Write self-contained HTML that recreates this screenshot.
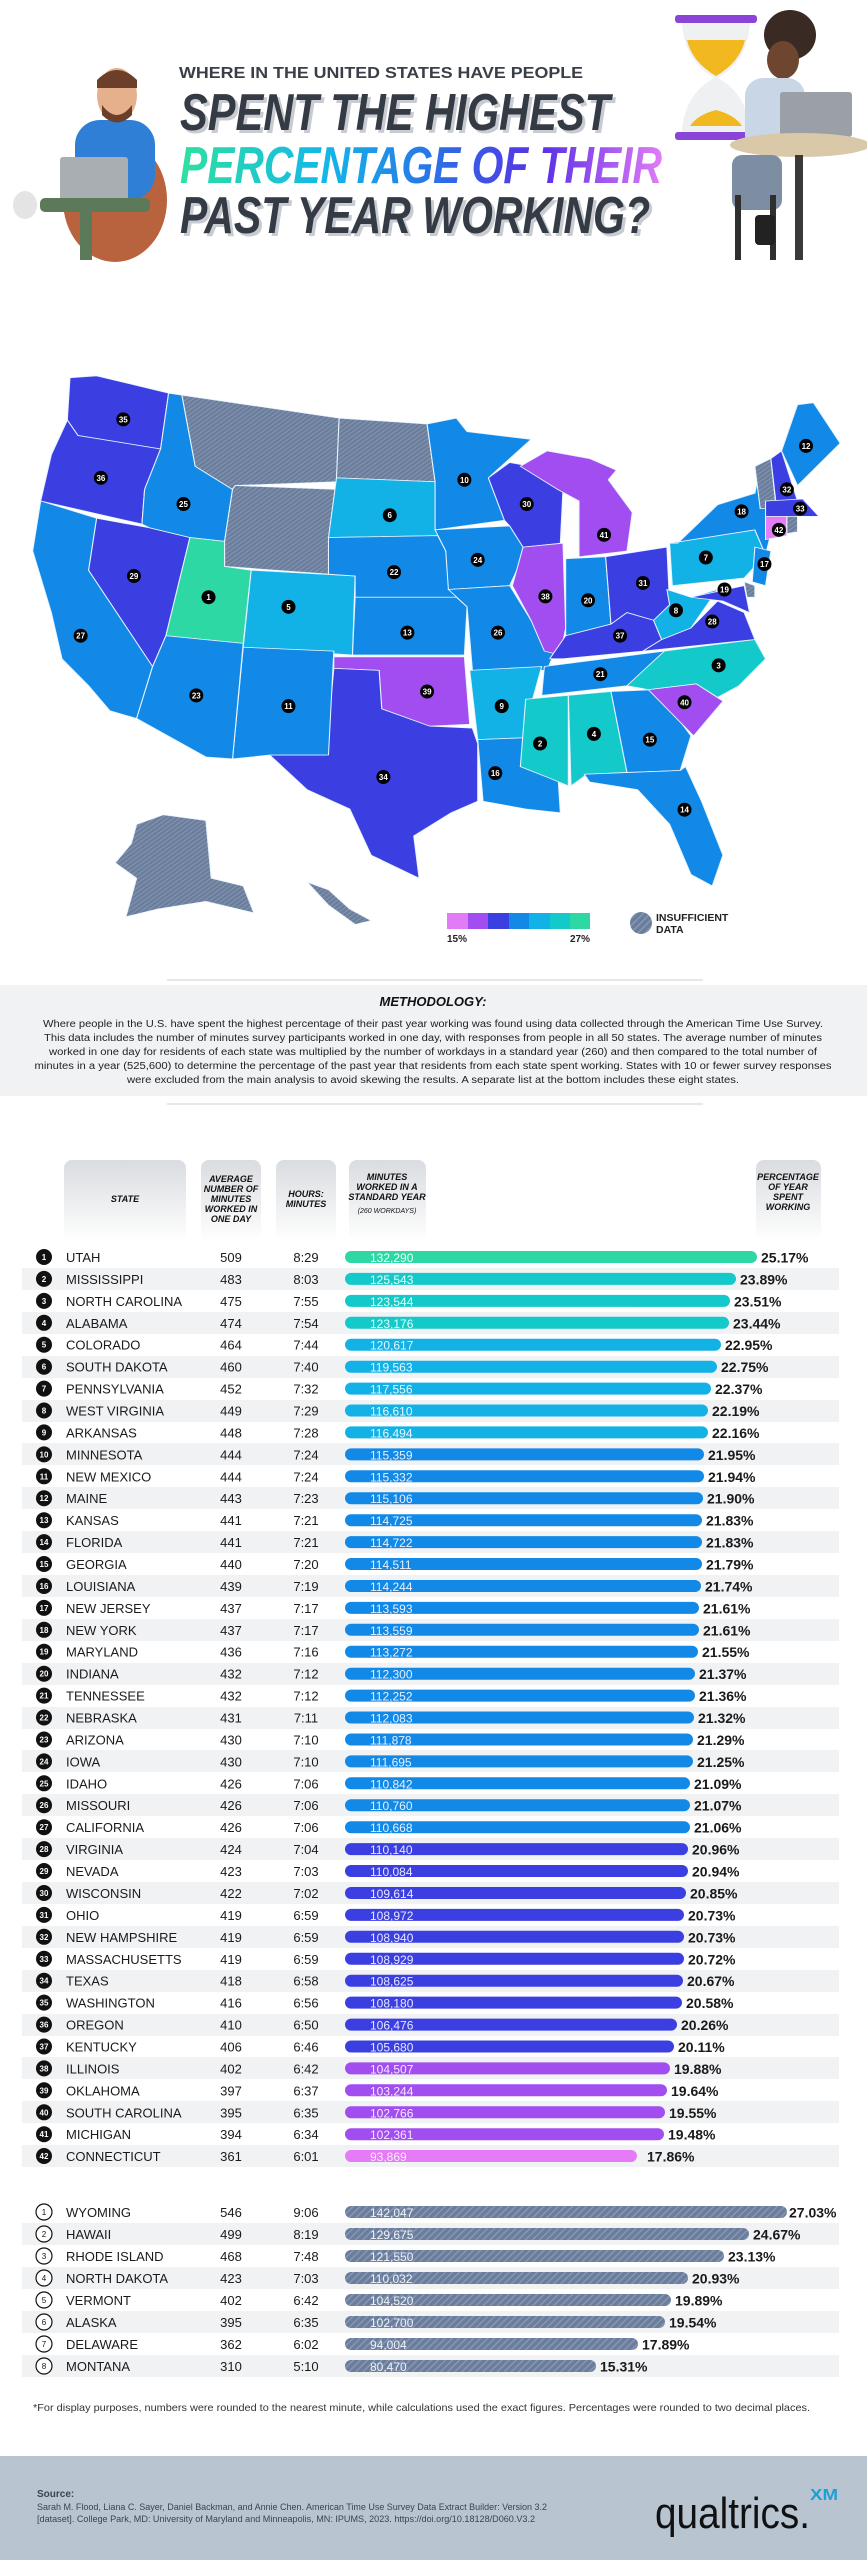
<!DOCTYPE html>
<html><head><meta charset="utf-8"><style>
html,body{margin:0;padding:0;background:#fff;}
body{width:867px;height:2560px;overflow:hidden;position:relative;font-family:"Liberation Sans",sans-serif;}
svg{position:absolute;left:0;top:0;}
</style></head><body>
<svg width="867" height="2560" viewBox="0 0 867 2560" xmlns="http://www.w3.org/2000/svg" font-family="Liberation Sans, sans-serif">
<defs>
<pattern id="h" width="5" height="5" patternUnits="userSpaceOnUse" patternTransform="rotate(45)"><rect width="5" height="5" fill="#6a7d9c"/><rect width="1.5" height="5" fill="#8797b2"/></pattern>
<pattern id="hm" width="8" height="8" patternUnits="userSpaceOnUse" patternTransform="rotate(45)"><rect width="8" height="8" fill="#6a7d9c"/><rect width="2.5" height="8" fill="#8394ad"/></pattern>
<linearGradient id="tg" x1="0" x2="1"><stop offset="0" stop-color="#2fe0a0"/><stop offset="0.3" stop-color="#12b8e8"/><stop offset="0.55" stop-color="#2d6be6"/><stop offset="0.75" stop-color="#5a2fe6"/><stop offset="1" stop-color="#e27cf6"/></linearGradient>
<linearGradient id="hg" x1="0" y1="0" x2="0" y2="1"><stop offset="0" stop-color="#d9dce0"/><stop offset="1" stop-color="#ffffff"/></linearGradient>
</defs>

<!-- Header illustrations -->
<ellipse cx="115" cy="200" rx="52" ry="62" fill="#b8623e"/>
<rect x="75" y="120" width="80" height="80" rx="25" fill="#2f7fd6"/>
<ellipse cx="117" cy="95" rx="20" ry="27" fill="#e6b08c"/>
<path d="M97 80 Q117 60 137 80 L137 88 L97 88Z" fill="#6b3f2a"/>
<path d="M102 105 Q117 125 132 105 L132 115 Q117 130 102 115Z" fill="#6b3f2a"/>
<rect x="60" y="157" width="68" height="43" rx="3" fill="#a9aeb3"/>
<rect x="40" y="198" width="110" height="14" rx="5" fill="#5c7a5a"/>
<rect x="80" y="210" width="12" height="50" fill="#5c7a5a"/>
<ellipse cx="25" cy="205" rx="12" ry="14" fill="#e4e4e4"/>
<rect x="675" y="15" width="82" height="8" rx="3" fill="#8a45d8"/>
<rect x="675" y="132" width="82" height="8" rx="3" fill="#8a45d8"/>
<path d="M682 23 L750 23 Q748 60 718 78 Q748 95 750 132 L682 132 Q684 95 714 78 Q684 60 682 23Z" fill="#eef0f2"/>
<path d="M687 40 L745 40 Q740 62 716 76 Q692 62 687 40Z" fill="#f2b81f"/>
<path d="M690 126 L742 126 Q735 115 716 110 Q697 115 690 126Z" fill="#f2b81f"/>
<ellipse cx="790" cy="35" rx="26" ry="25" fill="#3a2a24"/>
<ellipse cx="783" cy="60" rx="16" ry="19" fill="#6e4630"/>
<rect x="745" y="78" width="60" height="75" rx="18" fill="#c9d6e6"/>
<rect x="780" y="92" width="72" height="45" rx="3" fill="#9aa0a6"/>
<ellipse cx="800" cy="145" rx="70" ry="12" fill="#d9c9a8"/>
<rect x="732" y="155" width="50" height="55" rx="10" fill="#7d8ea3"/>
<rect x="795" y="155" width="8" height="105" fill="#3a3a3a"/>
<rect x="735" y="195" width="6" height="65" fill="#2f2f2f"/>
<rect x="770" y="195" width="6" height="65" fill="#2f2f2f"/>
<rect x="755" y="215" width="20" height="30" rx="4" fill="#222"/>

<!-- Title -->
<text x="179" y="78" font-size="16" font-weight="bold" fill="#3a3f47" textLength="404" lengthAdjust="spacingAndGlyphs">WHERE IN THE UNITED STATES HAVE PEOPLE</text>
<text x="183" y="133" font-size="52" font-weight="bold" font-style="italic" fill="#c8ccd2" textLength="430" lengthAdjust="spacingAndGlyphs">SPENT THE HIGHEST</text>
<text x="180" y="130" font-size="52" font-weight="bold" font-style="italic" fill="#353b44" textLength="430" lengthAdjust="spacingAndGlyphs">SPENT THE HIGHEST</text>
<text x="180" y="183" font-size="52" font-weight="bold" font-style="italic" fill="url(#tg)" textLength="482" lengthAdjust="spacingAndGlyphs">PERCENTAGE OF THEIR</text>
<text x="183" y="236" font-size="52" font-weight="bold" font-style="italic" fill="#c8ccd2" textLength="470" lengthAdjust="spacingAndGlyphs">PAST YEAR WORKING?</text>
<text x="180" y="233" font-size="52" font-weight="bold" font-style="italic" fill="#353b44" textLength="470" lengthAdjust="spacingAndGlyphs">PAST YEAR WORKING?</text>

<!-- Map -->
<g transform="translate(30,320) scale(0.533,0.385)" stroke="#e8f4ff" stroke-width="1" vector-effect="non-scaling-stroke">
<g stroke="#e8f4ff" stroke-width="2">
<polygon fill="#3b3fe2" points="75,150 125,145 260,190 245,335 90,300 70,260"/>
<polygon fill="#3b3fe2" points="70,260 90,300 245,335 215,440 210,530 20,470 40,350"/>
<polygon fill="#1289e6" points="20,470 125,515 110,650 230,900 200,1035 150,1015 110,950 60,880 40,760 5,600"/>
<polygon fill="#3b3fe2" points="125,515 225,540 300,565 255,820 230,900 110,650"/>
<polygon fill="#1289e6" points="260,190 285,195 310,380 380,440 365,575 300,565 225,540 210,530 215,440 245,335"/>
<polygon fill="url(#hm)" points="285,195 580,255 575,420 385,430 380,440 310,380"/>
<polygon fill="url(#hm)" points="385,430 575,440 560,660 365,640 365,575 380,440"/>
<polygon fill="url(#hm)" points="580,255 745,270 760,420 575,410"/>
<polygon fill="#12b2e6" points="575,410 760,420 765,560 560,565"/>
<polygon fill="#2ed8a4" points="300,565 365,575 365,640 415,650 400,840 255,820"/>
<polygon fill="#12b2e6" points="415,650 610,665 605,870 400,850"/>
<polygon fill="#1289e6" points="560,565 765,560 780,600 800,720 610,720 610,665 560,660"/>
<polygon fill="#1289e6" points="610,720 800,720 820,745 815,870 605,870"/>
<polygon fill="#a14df0" points="570,875 815,875 825,1050 750,1055 660,1010 655,910 570,905"/>
<polygon fill="#3b3fe2" points="450,1130 555,1130 570,905 655,910 660,1010 750,1055 830,1060 840,1100 840,1250 790,1280 720,1340 730,1450 640,1390 600,1270 520,1220"/>
<polygon fill="#1289e6" points="400,850 570,860 560,1130 450,1130 380,1140"/>
<polygon fill="#1289e6" points="255,820 400,840 380,1140 330,1135 200,1035 230,900"/>
<polygon fill="#1289e6" points="745,270 800,255 820,290 940,310 860,410 890,520 760,545 760,420"/>
<polygon fill="#1289e6" points="760,545 900,535 930,600 900,690 785,700 780,600"/>
<polygon fill="#1289e6" points="785,700 900,690 940,780 985,860 970,910 830,910 820,745"/>
<polygon fill="#12b2e6" points="825,910 960,900 940,1000 930,1085 840,1090"/>
<polygon fill="#1289e6" points="840,1090 930,1085 920,1160 990,1170 995,1280 930,1270 850,1250"/>
<polygon fill="#3b3fe2" points="860,410 900,370 960,385 1000,440 995,580 925,590 900,535 890,520"/>
<polygon fill="#a14df0" points="925,590 1000,580 1005,800 995,870 965,860 940,780 905,690"/>
<polygon fill="#a14df0" points="920,380 970,340 1050,360 1100,390 1085,415 1130,500 1120,600 1030,615 1030,470 990,440"/>
<polygon fill="#1289e6" points="1005,620 1080,615 1090,790 1005,820"/>
<polygon fill="#3b3fe2" points="1080,615 1195,590 1200,740 1170,780 1120,760 1090,790"/>
<polygon fill="#3b3fe2" points="975,880 1005,820 1090,790 1120,760 1170,780 1185,830 1150,860 1000,880"/>
<polygon fill="#1289e6" points="965,900 1190,860 1175,900 1120,950 960,975"/>
<polygon fill="#14c9c9" points="930,985 1010,975 1010,1210 975,1190 920,1160"/>
<polygon fill="#14c9c9" points="1010,975 1090,965 1120,1175 1045,1180 1015,1210"/>
<polygon fill="#1289e6" points="1090,965 1175,960 1240,1080 1220,1170 1120,1175"/>
<polygon fill="#1289e6" points="1040,1180 1220,1170 1230,1160 1260,1250 1300,1390 1280,1470 1240,1440 1200,1310 1140,1220 1050,1200"/>
<polygon fill="#a14df0" points="1160,960 1250,945 1300,990 1245,1080"/>
<polygon fill="#14c9c9" points="1120,950 1190,860 1360,830 1380,880 1330,950 1290,980 1250,945 1160,960"/>
<polygon fill="#3b3fe2" points="1150,860 1185,830 1240,800 1290,730 1340,760 1360,830"/>
<polygon fill="#12b2e6" points="1170,780 1200,740 1195,700 1240,720 1290,700 1240,800 1185,830"/>
<polygon fill="#12b2e6" points="1200,580 1360,545 1380,610 1340,670 1205,690"/>
<polygon fill="#1289e6" points="1215,580 1290,480 1360,450 1370,380 1400,500 1380,610 1360,545 1200,580"/>
<polygon fill="url(#hm)" points="1360,380 1390,360 1400,490 1370,490"/>
<polygon fill="#3b3fe2" points="1390,360 1410,340 1440,470 1400,480"/>
<polygon fill="#1289e6" points="1410,340 1440,220 1470,215 1520,320 1440,430"/>
<polygon fill="#3b3fe2" points="1380,470 1450,465 1480,510 1380,510"/>
<polygon fill="#e57bf7" points="1380,510 1420,510 1420,560 1380,570"/>
<polygon fill="url(#hm)" points="1420,510 1440,510 1440,550 1420,555"/>
<polygon fill="#1289e6" points="1360,590 1390,600 1380,690 1355,680"/>
<polygon fill="#3b3fe2" points="1240,720 1340,690 1350,760 1300,730"/>
<polygon fill="url(#hm)" points="1340,680 1360,690 1360,720 1345,720"/>
<polygon fill="url(#hm)" points="200,1310 250,1285 330,1300 340,1450 400,1470 420,1540 330,1510 240,1530 180,1550 200,1450 160,1410 190,1360"/>
<polygon fill="url(#hm)" points="520,1460 560,1480 600,1530 640,1560 610,1570 560,1520"/>
</g>
<g fill="#000" stroke="none" font-size="9" font-weight="bold" text-anchor="middle">
<g transform="translate(175,258) scale(1.876,2.6)"><circle r="7" fill="#000"/><text y="3" fill="#fff" font-size="8">35</text></g>
<g transform="translate(133,410) scale(1.876,2.6)"><circle r="7"/><text y="3" fill="#fff" font-size="8">36</text></g>
<g transform="translate(288,478) scale(1.876,2.6)"><circle r="7"/><text y="3" fill="#fff" font-size="8">25</text></g>
<g transform="translate(195,665) scale(1.876,2.6)"><circle r="7"/><text y="3" fill="#fff" font-size="8">29</text></g>
<g transform="translate(95,820) scale(1.876,2.6)"><circle r="7"/><text y="3" fill="#fff" font-size="8">27</text></g>
<g transform="translate(335,720) scale(1.876,2.6)"><circle r="7"/><text y="3" fill="#fff" font-size="8">1</text></g>
<g transform="translate(485,745) scale(1.876,2.6)"><circle r="7"/><text y="3" fill="#fff" font-size="8">5</text></g>
<g transform="translate(312,975) scale(1.876,2.6)"><circle r="7"/><text y="3" fill="#fff" font-size="8">23</text></g>
<g transform="translate(485,1003) scale(1.876,2.6)"><circle r="7"/><text y="3" fill="#fff" font-size="8">11</text></g>
<g transform="translate(675,507) scale(1.876,2.6)"><circle r="7"/><text y="3" fill="#fff" font-size="8">6</text></g>
<g transform="translate(683,655) scale(1.876,2.6)"><circle r="7"/><text y="3" fill="#fff" font-size="8">22</text></g>
<g transform="translate(708,812) scale(1.876,2.6)"><circle r="7"/><text y="3" fill="#fff" font-size="8">13</text></g>
<g transform="translate(745,965) scale(1.876,2.6)"><circle r="7"/><text y="3" fill="#fff" font-size="8">39</text></g>
<g transform="translate(663,1187) scale(1.876,2.6)"><circle r="7"/><text y="3" fill="#fff" font-size="8">34</text></g>
<g transform="translate(815,415) scale(1.876,2.6)"><circle r="7"/><text y="3" fill="#fff" font-size="8">10</text></g>
<g transform="translate(840,623) scale(1.876,2.6)"><circle r="7"/><text y="3" fill="#fff" font-size="8">24</text></g>
<g transform="translate(878,812) scale(1.876,2.6)"><circle r="7"/><text y="3" fill="#fff" font-size="8">26</text></g>
<g transform="translate(885,1003) scale(1.876,2.6)"><circle r="7"/><text y="3" fill="#fff" font-size="8">9</text></g>
<g transform="translate(873,1177) scale(1.876,2.6)"><circle r="7"/><text y="3" fill="#fff" font-size="8">16</text></g>
<g transform="translate(932,478) scale(1.876,2.6)"><circle r="7"/><text y="3" fill="#fff" font-size="8">30</text></g>
<g transform="translate(967,718) scale(1.876,2.6)"><circle r="7"/><text y="3" fill="#fff" font-size="8">38</text></g>
<g transform="translate(1077,558) scale(1.876,2.6)"><circle r="7"/><text y="3" fill="#fff" font-size="8">41</text></g>
<g transform="translate(1047,728) scale(1.876,2.6)"><circle r="7"/><text y="3" fill="#fff" font-size="8">20</text></g>
<g transform="translate(1150,683) scale(1.876,2.6)"><circle r="7"/><text y="3" fill="#fff" font-size="8">31</text></g>
<g transform="translate(1107,820) scale(1.876,2.6)"><circle r="7"/><text y="3" fill="#fff" font-size="8">37</text></g>
<g transform="translate(1070,920) scale(1.876,2.6)"><circle r="7"/><text y="3" fill="#fff" font-size="8">21</text></g>
<g transform="translate(957,1100) scale(1.876,2.6)"><circle r="7"/><text y="3" fill="#fff" font-size="8">2</text></g>
<g transform="translate(1058,1075) scale(1.876,2.6)"><circle r="7"/><text y="3" fill="#fff" font-size="8">4</text></g>
<g transform="translate(1163,1090) scale(1.876,2.6)"><circle r="7"/><text y="3" fill="#fff" font-size="8">15</text></g>
<g transform="translate(1228,1272) scale(1.876,2.6)"><circle r="7"/><text y="3" fill="#fff" font-size="8">14</text></g>
<g transform="translate(1228,993) scale(1.876,2.6)"><circle r="7"/><text y="3" fill="#fff" font-size="8">40</text></g>
<g transform="translate(1292,897) scale(1.876,2.6)"><circle r="7"/><text y="3" fill="#fff" font-size="8">3</text></g>
<g transform="translate(1212,754) scale(1.876,2.6)"><circle r="7"/><text y="3" fill="#fff" font-size="8">8</text></g>
<g transform="translate(1280,783) scale(1.876,2.6)"><circle r="7"/><text y="3" fill="#fff" font-size="8">28</text></g>
<g transform="translate(1268,617) scale(1.876,2.6)"><circle r="7"/><text y="3" fill="#fff" font-size="8">7</text></g>
<g transform="translate(1303,700) scale(1.876,2.6)"><circle r="7"/><text y="3" fill="#fff" font-size="8">19</text></g>
<g transform="translate(1378,634) scale(1.876,2.6)"><circle r="7"/><text y="3" fill="#fff" font-size="8">17</text></g>
<g transform="translate(1335,497) scale(1.876,2.6)"><circle r="7"/><text y="3" fill="#fff" font-size="8">18</text></g>
<g transform="translate(1456,327) scale(1.876,2.6)"><circle r="7"/><text y="3" fill="#fff" font-size="8">12</text></g>
<g transform="translate(1420,440) scale(1.876,2.6)"><circle r="7"/><text y="3" fill="#fff" font-size="8">32</text></g>
<g transform="translate(1445,490) scale(1.876,2.6)"><circle r="7"/><text y="3" fill="#fff" font-size="8">33</text></g>
<g transform="translate(1405,545) scale(1.876,2.6)"><circle r="7"/><text y="3" fill="#fff" font-size="8">42</text></g>
</g>
</g>

<!-- Legend -->
<rect x="447" y="913" width="21" height="16" fill="#e27cf6"/>
<rect x="468" y="913" width="20" height="16" fill="#a14df0"/>
<rect x="488" y="913" width="21" height="16" fill="#3b3fe2"/>
<rect x="509" y="913" width="20" height="16" fill="#1289e6"/>
<rect x="529" y="913" width="21" height="16" fill="#12b2e6"/>
<rect x="550" y="913" width="20" height="16" fill="#14c9c9"/>
<rect x="570" y="913" width="20" height="16" fill="#2ed8a4"/>
<text x="447" y="942" font-size="10" font-weight="bold" fill="#222">15%</text>
<text x="590" y="942" font-size="10" font-weight="bold" fill="#222" text-anchor="end">27%</text>
<circle cx="641" cy="923" r="11" fill="url(#h)"/>
<text x="656" y="921" font-size="10.5" font-weight="bold" fill="#222">INSUFFICIENT</text>
<text x="656" y="933" font-size="10.5" font-weight="bold" fill="#222">DATA</text>

<!-- Methodology -->
<line x1="167" y1="980" x2="703" y2="980" stroke="#d0d2d5" stroke-width="1"/>
<rect x="0" y="985" width="867" height="111" fill="#f1f2f4"/>
<line x1="167" y1="1104" x2="703" y2="1104" stroke="#d0d2d5" stroke-width="1"/>
<text x="433" y="1006" font-size="13" font-weight="bold" font-style="italic" fill="#111" text-anchor="middle">METHODOLOGY:</text>
<g font-size="10" fill="#222" text-anchor="middle">
<text x="433" y="1027" textLength="780" lengthAdjust="spacingAndGlyphs">Where people in the U.S. have spent the highest percentage of their past year working was found using data collected through the American Time Use Survey.</text>
<text x="433" y="1041" textLength="778" lengthAdjust="spacingAndGlyphs">This data includes the number of minutes survey participants worked in one day, with responses from people in all 50 states. The average number of minutes</text>
<text x="433" y="1055" textLength="768" lengthAdjust="spacingAndGlyphs">worked in one day for residents of each state was multiplied by the number of workdays in a standard year (260) and then compared to the total number of</text>
<text x="433" y="1069" textLength="797" lengthAdjust="spacingAndGlyphs">minutes in a year (525,600) to determine the percentage of the past year that residents from each state spent working. States with 10 or fewer survey responses</text>
<text x="433" y="1083" textLength="612" lengthAdjust="spacingAndGlyphs">were excluded from the main analysis to avoid skewing the results. A separate list at the bottom includes these eight states.</text>
</g>

<!-- Table header -->
<g fill="url(#hg)">
<rect x="64" y="1160" width="122" height="82" rx="8"/>
<rect x="201" y="1160" width="60" height="82" rx="8"/>
<rect x="276" y="1160" width="60" height="82" rx="8"/>
<rect x="349" y="1160" width="77" height="82" rx="8"/>
<rect x="756" y="1160" width="65" height="82" rx="8"/>
</g>
<g font-size="9" font-weight="bold" font-style="italic" fill="#111" text-anchor="middle">
<text x="125" y="1202">STATE</text>
<text x="231" y="1182">AVERAGE</text><text x="231" y="1192">NUMBER OF</text><text x="231" y="1202">MINUTES</text><text x="231" y="1212">WORKED IN</text><text x="231" y="1222">ONE DAY</text>
<text x="306" y="1197">HOURS:</text><text x="306" y="1207">MINUTES</text>
<text x="387" y="1180">MINUTES</text><text x="387" y="1190">WORKED IN A</text><text x="387" y="1200">STANDARD YEAR</text>
<text x="387" y="1213" font-size="7" font-weight="normal">(260 WORKDAYS)</text>
<text x="788" y="1180">PERCENTAGE</text><text x="788" y="1190">OF YEAR</text><text x="788" y="1200">SPENT</text><text x="788" y="1210">WORKING</text>
</g>

<!-- Alternating backgrounds -->
<g fill="#f1f2f4">
<rect x="22" y="1268" width="817" height="22"/><rect x="22" y="1312" width="817" height="22"/><rect x="22" y="1356" width="817" height="22"/><rect x="22" y="1400" width="817" height="22"/><rect x="22" y="1443" width="817" height="22"/><rect x="22" y="1487" width="817" height="22"/><rect x="22" y="1531" width="817" height="22"/><rect x="22" y="1575" width="817" height="22"/><rect x="22" y="1619" width="817" height="22"/><rect x="22" y="1663" width="817" height="22"/><rect x="22" y="1707" width="817" height="22"/><rect x="22" y="1750" width="817" height="22"/><rect x="22" y="1794" width="817" height="22"/><rect x="22" y="1838" width="817" height="22"/><rect x="22" y="1882" width="817" height="22"/><rect x="22" y="1926" width="817" height="22"/><rect x="22" y="1970" width="817" height="22"/><rect x="22" y="2014" width="817" height="22"/><rect x="22" y="2057" width="817" height="22"/><rect x="22" y="2101" width="817" height="22"/><rect x="22" y="2145" width="817" height="22"/>
<rect x="22" y="2223" width="817" height="22"/><rect x="22" y="2267" width="817" height="22"/><rect x="22" y="2311" width="817" height="22"/><rect x="22" y="2355" width="817" height="22"/>
</g>

<!-- Rows -->
<g font-size="13" fill="#1a1a1a">
<g transform="translate(0,1257)"><circle cx="44" cy="0" r="8" fill="#111"/><text x="44" y="3" font-size="8" font-weight="bold" fill="#fff" text-anchor="middle">1</text><text x="66" y="5">UTAH</text><text x="231" y="5" text-anchor="middle">509</text><text x="306" y="5" text-anchor="middle">8:29</text><rect x="345" y="-6" width="412" height="12" rx="6" fill="#2ed8a4"/><text x="370" y="5" font-size="12" fill="#e6fff6">132,290</text><text x="761" y="5.5" font-size="14" font-weight="bold">25.17%</text></g>
<g transform="translate(0,1278.9)"><circle cx="44" cy="0" r="8" fill="#111"/><text x="44" y="3" font-size="8" font-weight="bold" fill="#fff" text-anchor="middle">2</text><text x="66" y="5">MISSISSIPPI</text><text x="231" y="5" text-anchor="middle">483</text><text x="306" y="5" text-anchor="middle">8:03</text><rect x="345" y="-6" width="391" height="12" rx="6" fill="#14c9c9"/><text x="370" y="5" font-size="12" fill="#e6fff6">125,543</text><text x="740" y="5.5" font-size="14" font-weight="bold">23.89%</text></g>
<g transform="translate(0,1300.9)"><circle cx="44" cy="0" r="8" fill="#111"/><text x="44" y="3" font-size="8" font-weight="bold" fill="#fff" text-anchor="middle">3</text><text x="66" y="5">NORTH CAROLINA</text><text x="231" y="5" text-anchor="middle">475</text><text x="306" y="5" text-anchor="middle">7:55</text><rect x="345" y="-6" width="385" height="12" rx="6" fill="#14c9c9"/><text x="370" y="5" font-size="12" fill="#e6fff6">123,544</text><text x="734" y="5.5" font-size="14" font-weight="bold">23.51%</text></g>
<g transform="translate(0,1322.8)"><circle cx="44" cy="0" r="8" fill="#111"/><text x="44" y="3" font-size="8" font-weight="bold" fill="#fff" text-anchor="middle">4</text><text x="66" y="5">ALABAMA</text><text x="231" y="5" text-anchor="middle">474</text><text x="306" y="5" text-anchor="middle">7:54</text><rect x="345" y="-6" width="384" height="12" rx="6" fill="#14c9c9"/><text x="370" y="5" font-size="12" fill="#e6fff6">123,176</text><text x="733" y="5.5" font-size="14" font-weight="bold">23.44%</text></g>
<g transform="translate(0,1344.7)"><circle cx="44" cy="0" r="8" fill="#111"/><text x="44" y="3" font-size="8" font-weight="bold" fill="#fff" text-anchor="middle">5</text><text x="66" y="5">COLORADO</text><text x="231" y="5" text-anchor="middle">464</text><text x="306" y="5" text-anchor="middle">7:44</text><rect x="345" y="-6" width="376" height="12" rx="6" fill="#12b2e6"/><text x="370" y="5" font-size="12" fill="#e6f8ff">120,617</text><text x="725" y="5.5" font-size="14" font-weight="bold">22.95%</text></g>
<g transform="translate(0,1366.7)"><circle cx="44" cy="0" r="8" fill="#111"/><text x="44" y="3" font-size="8" font-weight="bold" fill="#fff" text-anchor="middle">6</text><text x="66" y="5">SOUTH DAKOTA</text><text x="231" y="5" text-anchor="middle">460</text><text x="306" y="5" text-anchor="middle">7:40</text><rect x="345" y="-6" width="372" height="12" rx="6" fill="#12b2e6"/><text x="370" y="5" font-size="12" fill="#e6f8ff">119,563</text><text x="721" y="5.5" font-size="14" font-weight="bold">22.75%</text></g>
<g transform="translate(0,1388.6)"><circle cx="44" cy="0" r="8" fill="#111"/><text x="44" y="3" font-size="8" font-weight="bold" fill="#fff" text-anchor="middle">7</text><text x="66" y="5">PENNSYLVANIA</text><text x="231" y="5" text-anchor="middle">452</text><text x="306" y="5" text-anchor="middle">7:32</text><rect x="345" y="-6" width="366" height="12" rx="6" fill="#12b2e6"/><text x="370" y="5" font-size="12" fill="#e6f8ff">117,556</text><text x="715" y="5.5" font-size="14" font-weight="bold">22.37%</text></g>
<g transform="translate(0,1410.5)"><circle cx="44" cy="0" r="8" fill="#111"/><text x="44" y="3" font-size="8" font-weight="bold" fill="#fff" text-anchor="middle">8</text><text x="66" y="5">WEST VIRGINIA</text><text x="231" y="5" text-anchor="middle">449</text><text x="306" y="5" text-anchor="middle">7:29</text><rect x="345" y="-6" width="363" height="12" rx="6" fill="#12b2e6"/><text x="370" y="5" font-size="12" fill="#e6f8ff">116,610</text><text x="712" y="5.5" font-size="14" font-weight="bold">22.19%</text></g>
<g transform="translate(0,1432.4)"><circle cx="44" cy="0" r="8" fill="#111"/><text x="44" y="3" font-size="8" font-weight="bold" fill="#fff" text-anchor="middle">9</text><text x="66" y="5">ARKANSAS</text><text x="231" y="5" text-anchor="middle">448</text><text x="306" y="5" text-anchor="middle">7:28</text><rect x="345" y="-6" width="363" height="12" rx="6" fill="#12b2e6"/><text x="370" y="5" font-size="12" fill="#e6f8ff">116,494</text><text x="712" y="5.5" font-size="14" font-weight="bold">22.16%</text></g>
<g transform="translate(0,1454.4)"><circle cx="44" cy="0" r="8" fill="#111"/><text x="44" y="3" font-size="8" font-weight="bold" fill="#fff" text-anchor="middle">10</text><text x="66" y="5">MINNESOTA</text><text x="231" y="5" text-anchor="middle">444</text><text x="306" y="5" text-anchor="middle">7:24</text><rect x="345" y="-6" width="359" height="12" rx="6" fill="#1289e6"/><text x="370" y="5" font-size="12" fill="#e6f0ff">115,359</text><text x="708" y="5.5" font-size="14" font-weight="bold">21.95%</text></g>
<g transform="translate(0,1476.3)"><circle cx="44" cy="0" r="8" fill="#111"/><text x="44" y="3" font-size="8" font-weight="bold" fill="#fff" text-anchor="middle">11</text><text x="66" y="5">NEW MEXICO</text><text x="231" y="5" text-anchor="middle">444</text><text x="306" y="5" text-anchor="middle">7:24</text><rect x="345" y="-6" width="359" height="12" rx="6" fill="#1289e6"/><text x="370" y="5" font-size="12" fill="#e6f0ff">115,332</text><text x="708" y="5.5" font-size="14" font-weight="bold">21.94%</text></g>
<g transform="translate(0,1498.2)"><circle cx="44" cy="0" r="8" fill="#111"/><text x="44" y="3" font-size="8" font-weight="bold" fill="#fff" text-anchor="middle">12</text><text x="66" y="5">MAINE</text><text x="231" y="5" text-anchor="middle">443</text><text x="306" y="5" text-anchor="middle">7:23</text><rect x="345" y="-6" width="358" height="12" rx="6" fill="#1289e6"/><text x="370" y="5" font-size="12" fill="#e6f0ff">115,106</text><text x="707" y="5.5" font-size="14" font-weight="bold">21.90%</text></g>
<g transform="translate(0,1520.2)"><circle cx="44" cy="0" r="8" fill="#111"/><text x="44" y="3" font-size="8" font-weight="bold" fill="#fff" text-anchor="middle">13</text><text x="66" y="5">KANSAS</text><text x="231" y="5" text-anchor="middle">441</text><text x="306" y="5" text-anchor="middle">7:21</text><rect x="345" y="-6" width="357" height="12" rx="6" fill="#1289e6"/><text x="370" y="5" font-size="12" fill="#e6f0ff">114,725</text><text x="706" y="5.5" font-size="14" font-weight="bold">21.83%</text></g>
<g transform="translate(0,1542.1)"><circle cx="44" cy="0" r="8" fill="#111"/><text x="44" y="3" font-size="8" font-weight="bold" fill="#fff" text-anchor="middle">14</text><text x="66" y="5">FLORIDA</text><text x="231" y="5" text-anchor="middle">441</text><text x="306" y="5" text-anchor="middle">7:21</text><rect x="345" y="-6" width="357" height="12" rx="6" fill="#1289e6"/><text x="370" y="5" font-size="12" fill="#e6f0ff">114,722</text><text x="706" y="5.5" font-size="14" font-weight="bold">21.83%</text></g>
<g transform="translate(0,1564)"><circle cx="44" cy="0" r="8" fill="#111"/><text x="44" y="3" font-size="8" font-weight="bold" fill="#fff" text-anchor="middle">15</text><text x="66" y="5">GEORGIA</text><text x="231" y="5" text-anchor="middle">440</text><text x="306" y="5" text-anchor="middle">7:20</text><rect x="345" y="-6" width="357" height="12" rx="6" fill="#1289e6"/><text x="370" y="5" font-size="12" fill="#e6f0ff">114,511</text><text x="706" y="5.5" font-size="14" font-weight="bold">21.79%</text></g>
<g transform="translate(0,1586)"><circle cx="44" cy="0" r="8" fill="#111"/><text x="44" y="3" font-size="8" font-weight="bold" fill="#fff" text-anchor="middle">16</text><text x="66" y="5">LOUISIANA</text><text x="231" y="5" text-anchor="middle">439</text><text x="306" y="5" text-anchor="middle">7:19</text><rect x="345" y="-6" width="356" height="12" rx="6" fill="#1289e6"/><text x="370" y="5" font-size="12" fill="#e6f0ff">114,244</text><text x="705" y="5.5" font-size="14" font-weight="bold">21.74%</text></g>
<g transform="translate(0,1607.9)"><circle cx="44" cy="0" r="8" fill="#111"/><text x="44" y="3" font-size="8" font-weight="bold" fill="#fff" text-anchor="middle">17</text><text x="66" y="5">NEW JERSEY</text><text x="231" y="5" text-anchor="middle">437</text><text x="306" y="5" text-anchor="middle">7:17</text><rect x="345" y="-6" width="354" height="12" rx="6" fill="#1289e6"/><text x="370" y="5" font-size="12" fill="#e6f0ff">113,593</text><text x="703" y="5.5" font-size="14" font-weight="bold">21.61%</text></g>
<g transform="translate(0,1629.8)"><circle cx="44" cy="0" r="8" fill="#111"/><text x="44" y="3" font-size="8" font-weight="bold" fill="#fff" text-anchor="middle">18</text><text x="66" y="5">NEW YORK</text><text x="231" y="5" text-anchor="middle">437</text><text x="306" y="5" text-anchor="middle">7:17</text><rect x="345" y="-6" width="354" height="12" rx="6" fill="#1289e6"/><text x="370" y="5" font-size="12" fill="#e6f0ff">113,559</text><text x="703" y="5.5" font-size="14" font-weight="bold">21.61%</text></g>
<g transform="translate(0,1651.7)"><circle cx="44" cy="0" r="8" fill="#111"/><text x="44" y="3" font-size="8" font-weight="bold" fill="#fff" text-anchor="middle">19</text><text x="66" y="5">MARYLAND</text><text x="231" y="5" text-anchor="middle">436</text><text x="306" y="5" text-anchor="middle">7:16</text><rect x="345" y="-6" width="353" height="12" rx="6" fill="#1289e6"/><text x="370" y="5" font-size="12" fill="#e6f0ff">113,272</text><text x="702" y="5.5" font-size="14" font-weight="bold">21.55%</text></g>
<g transform="translate(0,1673.7)"><circle cx="44" cy="0" r="8" fill="#111"/><text x="44" y="3" font-size="8" font-weight="bold" fill="#fff" text-anchor="middle">20</text><text x="66" y="5">INDIANA</text><text x="231" y="5" text-anchor="middle">432</text><text x="306" y="5" text-anchor="middle">7:12</text><rect x="345" y="-6" width="350" height="12" rx="6" fill="#1289e6"/><text x="370" y="5" font-size="12" fill="#e6f0ff">112,300</text><text x="699" y="5.5" font-size="14" font-weight="bold">21.37%</text></g>
<g transform="translate(0,1695.6)"><circle cx="44" cy="0" r="8" fill="#111"/><text x="44" y="3" font-size="8" font-weight="bold" fill="#fff" text-anchor="middle">21</text><text x="66" y="5">TENNESSEE</text><text x="231" y="5" text-anchor="middle">432</text><text x="306" y="5" text-anchor="middle">7:12</text><rect x="345" y="-6" width="350" height="12" rx="6" fill="#1289e6"/><text x="370" y="5" font-size="12" fill="#e6f0ff">112,252</text><text x="699" y="5.5" font-size="14" font-weight="bold">21.36%</text></g>
<g transform="translate(0,1717.5)"><circle cx="44" cy="0" r="8" fill="#111"/><text x="44" y="3" font-size="8" font-weight="bold" fill="#fff" text-anchor="middle">22</text><text x="66" y="5">NEBRASKA</text><text x="231" y="5" text-anchor="middle">431</text><text x="306" y="5" text-anchor="middle">7:11</text><rect x="345" y="-6" width="349" height="12" rx="6" fill="#1289e6"/><text x="370" y="5" font-size="12" fill="#e6f0ff">112,083</text><text x="698" y="5.5" font-size="14" font-weight="bold">21.32%</text></g>
<g transform="translate(0,1739.5)"><circle cx="44" cy="0" r="8" fill="#111"/><text x="44" y="3" font-size="8" font-weight="bold" fill="#fff" text-anchor="middle">23</text><text x="66" y="5">ARIZONA</text><text x="231" y="5" text-anchor="middle">430</text><text x="306" y="5" text-anchor="middle">7:10</text><rect x="345" y="-6" width="348" height="12" rx="6" fill="#1289e6"/><text x="370" y="5" font-size="12" fill="#e6f0ff">111,878</text><text x="697" y="5.5" font-size="14" font-weight="bold">21.29%</text></g>
<g transform="translate(0,1761.4)"><circle cx="44" cy="0" r="8" fill="#111"/><text x="44" y="3" font-size="8" font-weight="bold" fill="#fff" text-anchor="middle">24</text><text x="66" y="5">IOWA</text><text x="231" y="5" text-anchor="middle">430</text><text x="306" y="5" text-anchor="middle">7:10</text><rect x="345" y="-6" width="348" height="12" rx="6" fill="#1289e6"/><text x="370" y="5" font-size="12" fill="#e6f0ff">111,695</text><text x="697" y="5.5" font-size="14" font-weight="bold">21.25%</text></g>
<g transform="translate(0,1783.3)"><circle cx="44" cy="0" r="8" fill="#111"/><text x="44" y="3" font-size="8" font-weight="bold" fill="#fff" text-anchor="middle">25</text><text x="66" y="5">IDAHO</text><text x="231" y="5" text-anchor="middle">426</text><text x="306" y="5" text-anchor="middle">7:06</text><rect x="345" y="-6" width="345" height="12" rx="6" fill="#1289e6"/><text x="370" y="5" font-size="12" fill="#e6f0ff">110,842</text><text x="694" y="5.5" font-size="14" font-weight="bold">21.09%</text></g>
<g transform="translate(0,1805.2)"><circle cx="44" cy="0" r="8" fill="#111"/><text x="44" y="3" font-size="8" font-weight="bold" fill="#fff" text-anchor="middle">26</text><text x="66" y="5">MISSOURI</text><text x="231" y="5" text-anchor="middle">426</text><text x="306" y="5" text-anchor="middle">7:06</text><rect x="345" y="-6" width="345" height="12" rx="6" fill="#1289e6"/><text x="370" y="5" font-size="12" fill="#e6f0ff">110,760</text><text x="694" y="5.5" font-size="14" font-weight="bold">21.07%</text></g>
<g transform="translate(0,1827.2)"><circle cx="44" cy="0" r="8" fill="#111"/><text x="44" y="3" font-size="8" font-weight="bold" fill="#fff" text-anchor="middle">27</text><text x="66" y="5">CALIFORNIA</text><text x="231" y="5" text-anchor="middle">426</text><text x="306" y="5" text-anchor="middle">7:06</text><rect x="345" y="-6" width="345" height="12" rx="6" fill="#1289e6"/><text x="370" y="5" font-size="12" fill="#e6f0ff">110,668</text><text x="694" y="5.5" font-size="14" font-weight="bold">21.06%</text></g>
<g transform="translate(0,1849.1)"><circle cx="44" cy="0" r="8" fill="#111"/><text x="44" y="3" font-size="8" font-weight="bold" fill="#fff" text-anchor="middle">28</text><text x="66" y="5">VIRGINIA</text><text x="231" y="5" text-anchor="middle">424</text><text x="306" y="5" text-anchor="middle">7:04</text><rect x="345" y="-6" width="343" height="12" rx="6" fill="#3b3fe2"/><text x="370" y="5" font-size="12" fill="#e6e8ff">110,140</text><text x="692" y="5.5" font-size="14" font-weight="bold">20.96%</text></g>
<g transform="translate(0,1871)"><circle cx="44" cy="0" r="8" fill="#111"/><text x="44" y="3" font-size="8" font-weight="bold" fill="#fff" text-anchor="middle">29</text><text x="66" y="5">NEVADA</text><text x="231" y="5" text-anchor="middle">423</text><text x="306" y="5" text-anchor="middle">7:03</text><rect x="345" y="-6" width="343" height="12" rx="6" fill="#3b3fe2"/><text x="370" y="5" font-size="12" fill="#e6e8ff">110,084</text><text x="692" y="5.5" font-size="14" font-weight="bold">20.94%</text></g>
<g transform="translate(0,1893)"><circle cx="44" cy="0" r="8" fill="#111"/><text x="44" y="3" font-size="8" font-weight="bold" fill="#fff" text-anchor="middle">30</text><text x="66" y="5">WISCONSIN</text><text x="231" y="5" text-anchor="middle">422</text><text x="306" y="5" text-anchor="middle">7:02</text><rect x="345" y="-6" width="341" height="12" rx="6" fill="#3b3fe2"/><text x="370" y="5" font-size="12" fill="#e6e8ff">109,614</text><text x="690" y="5.5" font-size="14" font-weight="bold">20.85%</text></g>
<g transform="translate(0,1914.9)"><circle cx="44" cy="0" r="8" fill="#111"/><text x="44" y="3" font-size="8" font-weight="bold" fill="#fff" text-anchor="middle">31</text><text x="66" y="5">OHIO</text><text x="231" y="5" text-anchor="middle">419</text><text x="306" y="5" text-anchor="middle">6:59</text><rect x="345" y="-6" width="339" height="12" rx="6" fill="#3b3fe2"/><text x="370" y="5" font-size="12" fill="#e6e8ff">108,972</text><text x="688" y="5.5" font-size="14" font-weight="bold">20.73%</text></g>
<g transform="translate(0,1936.8)"><circle cx="44" cy="0" r="8" fill="#111"/><text x="44" y="3" font-size="8" font-weight="bold" fill="#fff" text-anchor="middle">32</text><text x="66" y="5">NEW HAMPSHIRE</text><text x="231" y="5" text-anchor="middle">419</text><text x="306" y="5" text-anchor="middle">6:59</text><rect x="345" y="-6" width="339" height="12" rx="6" fill="#3b3fe2"/><text x="370" y="5" font-size="12" fill="#e6e8ff">108,940</text><text x="688" y="5.5" font-size="14" font-weight="bold">20.73%</text></g>
<g transform="translate(0,1958.8)"><circle cx="44" cy="0" r="8" fill="#111"/><text x="44" y="3" font-size="8" font-weight="bold" fill="#fff" text-anchor="middle">33</text><text x="66" y="5">MASSACHUSETTS</text><text x="231" y="5" text-anchor="middle">419</text><text x="306" y="5" text-anchor="middle">6:59</text><rect x="345" y="-6" width="339" height="12" rx="6" fill="#3b3fe2"/><text x="370" y="5" font-size="12" fill="#e6e8ff">108,929</text><text x="688" y="5.5" font-size="14" font-weight="bold">20.72%</text></g>
<g transform="translate(0,1980.7)"><circle cx="44" cy="0" r="8" fill="#111"/><text x="44" y="3" font-size="8" font-weight="bold" fill="#fff" text-anchor="middle">34</text><text x="66" y="5">TEXAS</text><text x="231" y="5" text-anchor="middle">418</text><text x="306" y="5" text-anchor="middle">6:58</text><rect x="345" y="-6" width="338" height="12" rx="6" fill="#3b3fe2"/><text x="370" y="5" font-size="12" fill="#e6e8ff">108,625</text><text x="687" y="5.5" font-size="14" font-weight="bold">20.67%</text></g>
<g transform="translate(0,2002.6)"><circle cx="44" cy="0" r="8" fill="#111"/><text x="44" y="3" font-size="8" font-weight="bold" fill="#fff" text-anchor="middle">35</text><text x="66" y="5">WASHINGTON</text><text x="231" y="5" text-anchor="middle">416</text><text x="306" y="5" text-anchor="middle">6:56</text><rect x="345" y="-6" width="337" height="12" rx="6" fill="#3b3fe2"/><text x="370" y="5" font-size="12" fill="#e6e8ff">108,180</text><text x="686" y="5.5" font-size="14" font-weight="bold">20.58%</text></g>
<g transform="translate(0,2024.6)"><circle cx="44" cy="0" r="8" fill="#111"/><text x="44" y="3" font-size="8" font-weight="bold" fill="#fff" text-anchor="middle">36</text><text x="66" y="5">OREGON</text><text x="231" y="5" text-anchor="middle">410</text><text x="306" y="5" text-anchor="middle">6:50</text><rect x="345" y="-6" width="332" height="12" rx="6" fill="#3b3fe2"/><text x="370" y="5" font-size="12" fill="#e6e8ff">106,476</text><text x="681" y="5.5" font-size="14" font-weight="bold">20.26%</text></g>
<g transform="translate(0,2046.5)"><circle cx="44" cy="0" r="8" fill="#111"/><text x="44" y="3" font-size="8" font-weight="bold" fill="#fff" text-anchor="middle">37</text><text x="66" y="5">KENTUCKY</text><text x="231" y="5" text-anchor="middle">406</text><text x="306" y="5" text-anchor="middle">6:46</text><rect x="345" y="-6" width="329" height="12" rx="6" fill="#3b3fe2"/><text x="370" y="5" font-size="12" fill="#e6e8ff">105,680</text><text x="678" y="5.5" font-size="14" font-weight="bold">20.11%</text></g>
<g transform="translate(0,2068.4)"><circle cx="44" cy="0" r="8" fill="#111"/><text x="44" y="3" font-size="8" font-weight="bold" fill="#fff" text-anchor="middle">38</text><text x="66" y="5">ILLINOIS</text><text x="231" y="5" text-anchor="middle">402</text><text x="306" y="5" text-anchor="middle">6:42</text><rect x="345" y="-6" width="325" height="12" rx="6" fill="#a14df0"/><text x="370" y="5" font-size="12" fill="#f4e8ff">104,507</text><text x="674" y="5.5" font-size="14" font-weight="bold">19.88%</text></g>
<g transform="translate(0,2090.3)"><circle cx="44" cy="0" r="8" fill="#111"/><text x="44" y="3" font-size="8" font-weight="bold" fill="#fff" text-anchor="middle">39</text><text x="66" y="5">OKLAHOMA</text><text x="231" y="5" text-anchor="middle">397</text><text x="306" y="5" text-anchor="middle">6:37</text><rect x="345" y="-6" width="322" height="12" rx="6" fill="#a14df0"/><text x="370" y="5" font-size="12" fill="#f4e8ff">103,244</text><text x="671" y="5.5" font-size="14" font-weight="bold">19.64%</text></g>
<g transform="translate(0,2112.3)"><circle cx="44" cy="0" r="8" fill="#111"/><text x="44" y="3" font-size="8" font-weight="bold" fill="#fff" text-anchor="middle">40</text><text x="66" y="5">SOUTH CAROLINA</text><text x="231" y="5" text-anchor="middle">395</text><text x="306" y="5" text-anchor="middle">6:35</text><rect x="345" y="-6" width="320" height="12" rx="6" fill="#a14df0"/><text x="370" y="5" font-size="12" fill="#f4e8ff">102,766</text><text x="669" y="5.5" font-size="14" font-weight="bold">19.55%</text></g>
<g transform="translate(0,2134.2)"><circle cx="44" cy="0" r="8" fill="#111"/><text x="44" y="3" font-size="8" font-weight="bold" fill="#fff" text-anchor="middle">41</text><text x="66" y="5">MICHIGAN</text><text x="231" y="5" text-anchor="middle">394</text><text x="306" y="5" text-anchor="middle">6:34</text><rect x="345" y="-6" width="319" height="12" rx="6" fill="#a14df0"/><text x="370" y="5" font-size="12" fill="#f4e8ff">102,361</text><text x="668" y="5.5" font-size="14" font-weight="bold">19.48%</text></g>
<g transform="translate(0,2156)"><circle cx="44" cy="0" r="8" fill="#111"/><text x="44" y="3" font-size="8" font-weight="bold" fill="#fff" text-anchor="middle">42</text><text x="66" y="5">CONNECTICUT</text><text x="231" y="5" text-anchor="middle">361</text><text x="306" y="5" text-anchor="middle">6:01</text><rect x="345" y="-6" width="292" height="12" rx="6" fill="#e57bf7"/><text x="370" y="5" font-size="12" fill="#fde8ff">93,869</text><text x="647" y="5.5" font-size="14" font-weight="bold">17.86%</text></g>

<g transform="translate(0,2212)"><circle cx="44" cy="0" r="8" fill="#fff" stroke="#111" stroke-width="1.2"/><text x="44" y="3" font-size="8" fill="#111" text-anchor="middle">1</text><text x="66" y="5">WYOMING</text><text x="231" y="5" text-anchor="middle">546</text><text x="306" y="5" text-anchor="middle">9:06</text><rect x="345" y="-6" width="442" height="12" rx="6" fill="url(#h)"/><text x="370" y="5" font-size="12" fill="#eef2f8">142,047</text><text x="789" y="5.5" font-size="14" font-weight="bold">27.03%</text></g>
<g transform="translate(0,2234)"><circle cx="44" cy="0" r="8" fill="#fff" stroke="#111" stroke-width="1.2"/><text x="44" y="3" font-size="8" fill="#111" text-anchor="middle">2</text><text x="66" y="5">HAWAII</text><text x="231" y="5" text-anchor="middle">499</text><text x="306" y="5" text-anchor="middle">8:19</text><rect x="345" y="-6" width="404" height="12" rx="6" fill="url(#h)"/><text x="370" y="5" font-size="12" fill="#eef2f8">129,675</text><text x="753" y="5.5" font-size="14" font-weight="bold">24.67%</text></g>
<g transform="translate(0,2256)"><circle cx="44" cy="0" r="8" fill="#fff" stroke="#111" stroke-width="1.2"/><text x="44" y="3" font-size="8" fill="#111" text-anchor="middle">3</text><text x="66" y="5">RHODE ISLAND</text><text x="231" y="5" text-anchor="middle">468</text><text x="306" y="5" text-anchor="middle">7:48</text><rect x="345" y="-6" width="379" height="12" rx="6" fill="url(#h)"/><text x="370" y="5" font-size="12" fill="#eef2f8">121,550</text><text x="728" y="5.5" font-size="14" font-weight="bold">23.13%</text></g>
<g transform="translate(0,2278)"><circle cx="44" cy="0" r="8" fill="#fff" stroke="#111" stroke-width="1.2"/><text x="44" y="3" font-size="8" fill="#111" text-anchor="middle">4</text><text x="66" y="5">NORTH DAKOTA</text><text x="231" y="5" text-anchor="middle">423</text><text x="306" y="5" text-anchor="middle">7:03</text><rect x="345" y="-6" width="343" height="12" rx="6" fill="url(#h)"/><text x="370" y="5" font-size="12" fill="#eef2f8">110,032</text><text x="692" y="5.5" font-size="14" font-weight="bold">20.93%</text></g>
<g transform="translate(0,2300)"><circle cx="44" cy="0" r="8" fill="#fff" stroke="#111" stroke-width="1.2"/><text x="44" y="3" font-size="8" fill="#111" text-anchor="middle">5</text><text x="66" y="5">VERMONT</text><text x="231" y="5" text-anchor="middle">402</text><text x="306" y="5" text-anchor="middle">6:42</text><rect x="345" y="-6" width="326" height="12" rx="6" fill="url(#h)"/><text x="370" y="5" font-size="12" fill="#eef2f8">104,520</text><text x="675" y="5.5" font-size="14" font-weight="bold">19.89%</text></g>
<g transform="translate(0,2322)"><circle cx="44" cy="0" r="8" fill="#fff" stroke="#111" stroke-width="1.2"/><text x="44" y="3" font-size="8" fill="#111" text-anchor="middle">6</text><text x="66" y="5">ALASKA</text><text x="231" y="5" text-anchor="middle">395</text><text x="306" y="5" text-anchor="middle">6:35</text><rect x="345" y="-6" width="320" height="12" rx="6" fill="url(#h)"/><text x="370" y="5" font-size="12" fill="#eef2f8">102,700</text><text x="669" y="5.5" font-size="14" font-weight="bold">19.54%</text></g>
<g transform="translate(0,2344)"><circle cx="44" cy="0" r="8" fill="#fff" stroke="#111" stroke-width="1.2"/><text x="44" y="3" font-size="8" fill="#111" text-anchor="middle">7</text><text x="66" y="5">DELAWARE</text><text x="231" y="5" text-anchor="middle">362</text><text x="306" y="5" text-anchor="middle">6:02</text><rect x="345" y="-6" width="293" height="12" rx="6" fill="url(#h)"/><text x="370" y="5" font-size="12" fill="#eef2f8">94,004</text><text x="642" y="5.5" font-size="14" font-weight="bold">17.89%</text></g>
<g transform="translate(0,2366)"><circle cx="44" cy="0" r="8" fill="#fff" stroke="#111" stroke-width="1.2"/><text x="44" y="3" font-size="8" fill="#111" text-anchor="middle">8</text><text x="66" y="5">MONTANA</text><text x="231" y="5" text-anchor="middle">310</text><text x="306" y="5" text-anchor="middle">5:10</text><rect x="345" y="-6" width="251" height="12" rx="6" fill="url(#h)"/><text x="370" y="5" font-size="12" fill="#eef2f8">80,470</text><text x="600" y="5.5" font-size="14" font-weight="bold">15.31%</text></g>
</g>

<text x="33" y="2411" font-size="10.5" fill="#333" textLength="777" lengthAdjust="spacingAndGlyphs">*For display purposes, numbers were rounded to the nearest minute, while calculations used the exact figures. Percentages were rounded to two decimal places.</text>

<!-- Footer -->
<rect x="0" y="2456" width="867" height="104" fill="#b9c4d1"/>
<text x="37" y="2497" font-size="10" font-weight="bold" fill="#3a4454">Source:</text>
<text x="37" y="2510" font-size="9" fill="#3a4454" textLength="510" lengthAdjust="spacingAndGlyphs">Sarah M. Flood, Liana C. Sayer, Daniel Backman, and Annie Chen. American Time Use Survey Data Extract Builder: Version 3.2</text>
<text x="37" y="2522" font-size="9" fill="#3a4454" textLength="498" lengthAdjust="spacingAndGlyphs">[dataset]. College Park, MD: University of Maryland and Minneapolis, MN: IPUMS, 2023. https://doi.org/10.18128/D060.V3.2</text>
<text x="655" y="2528" font-size="44" fill="#111" textLength="155" lengthAdjust="spacingAndGlyphs">qualtrics.</text>
<text x="810" y="2500" font-size="16" font-weight="bold" fill="#1aa0d8" textLength="28" lengthAdjust="spacingAndGlyphs">XM</text>
</svg>
</body></html>
